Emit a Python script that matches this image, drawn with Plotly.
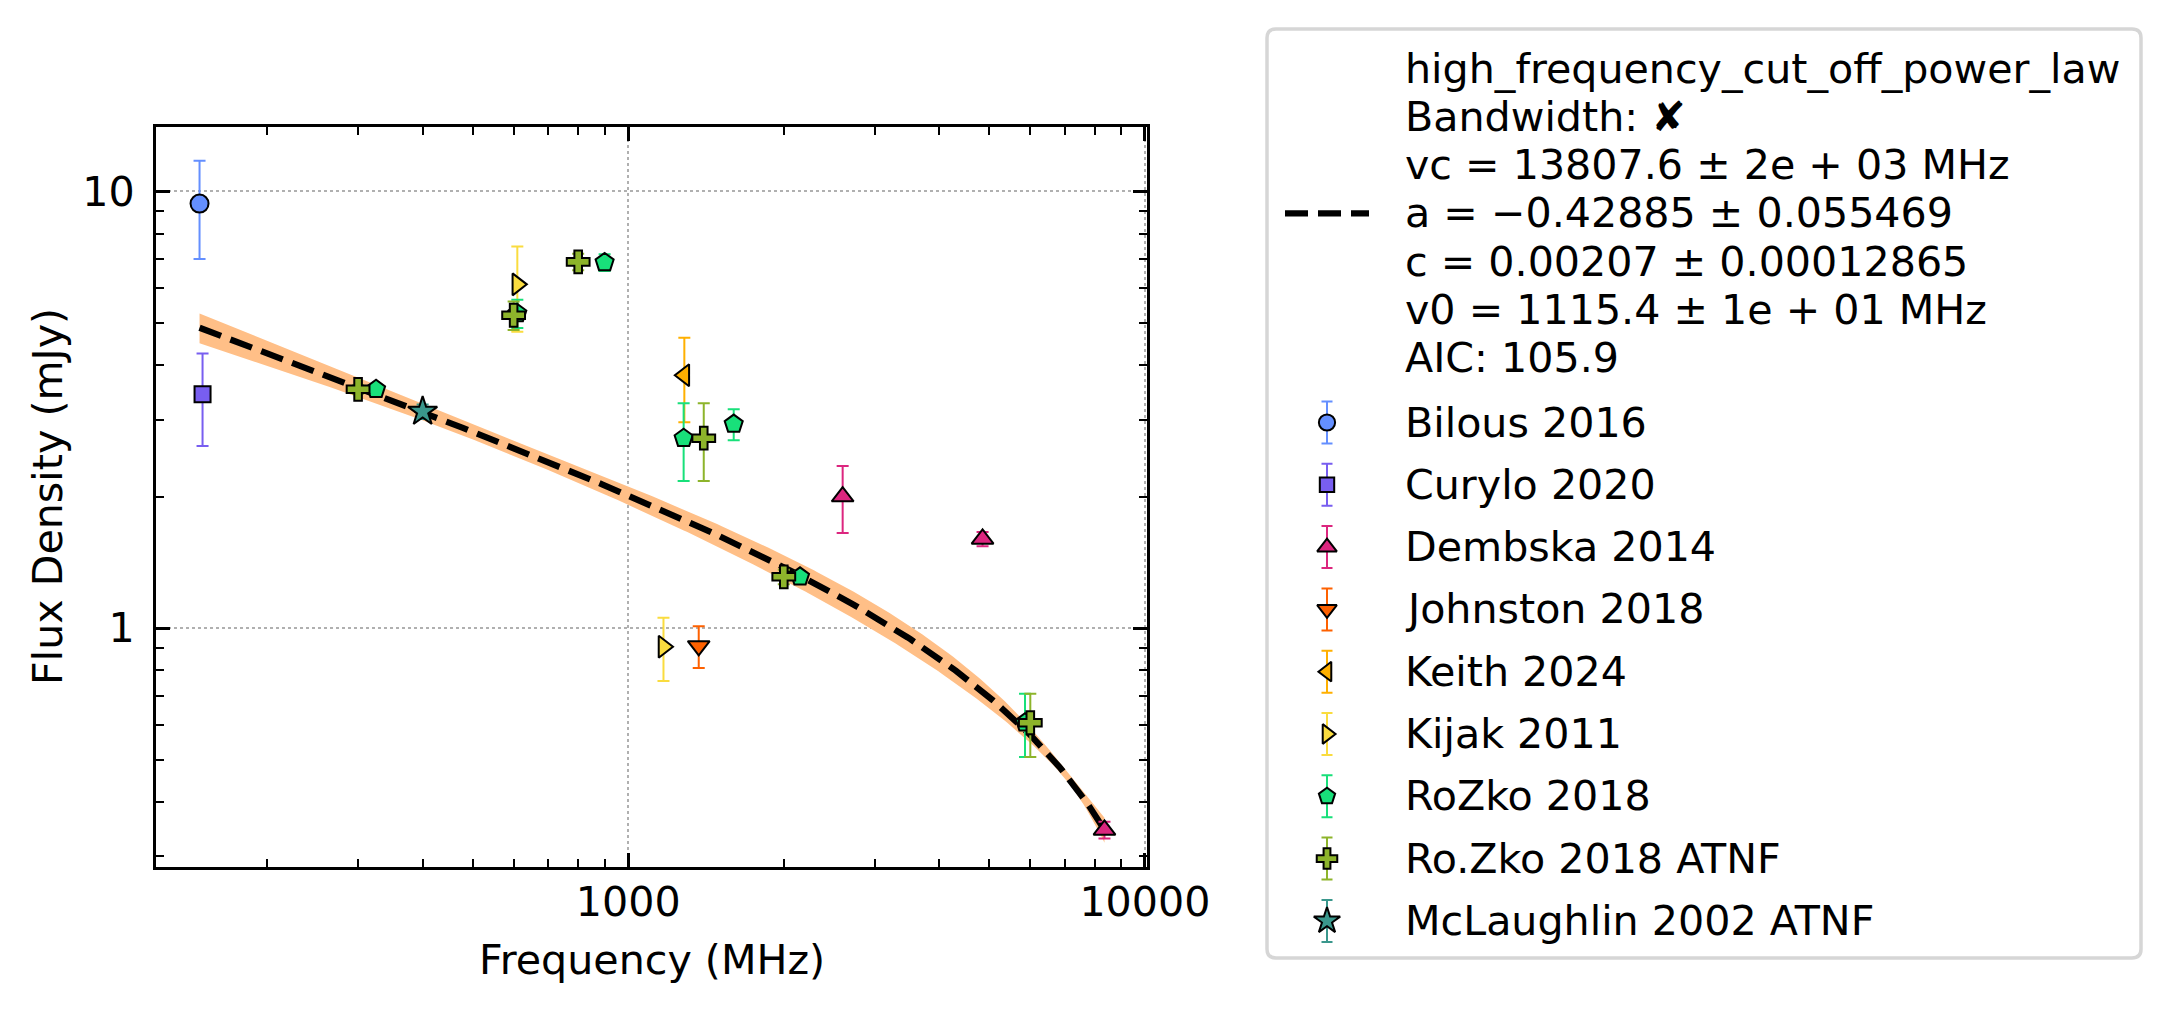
import numpy as np
import plotly.graph_objects as go

W, H = 2172, 1011
FONT = "DejaVu Sans"
FS = 41.2

# ---------------- data (frequency MHz, flux density mJy, error mJy) ----------------
bilous_freq = [148]
bilous_flux = [9.37]
bilous_err = [2.37]

curylo_freq = [150]
curylo_flux = [3.43]
curylo_err = [0.82]

dembska_freq = [2600, 4850, 8350]
dembska_flux = [2.0, 1.6, 0.345]
dembska_err = [0.35, 0.06, 0.015]

johnston_freq = [1369]
johnston_flux = [0.91]
johnston_err = [0.10]

keith_freq = [1284]
keith_flux = [3.79]
keith_err = [0.83]

kijak_freq = [610, 1170]
kijak_flux = [6.12, 0.906]
kijak_err = [1.35, 0.15]

rozko_freq = [325, 610, 900, 1280, 1600, 2150, 5860]
rozko_flux = [3.52, 5.25, 6.87, 2.72, 2.93, 1.31, 0.607]
rozko_err = [0.08, 0.39, 0.30, 0.55, 0.24, 0.04, 0.10]

rozko_atnf_freq = [300, 600, 800, 1400, 2000, 6000]
rozko_atnf_flux = [3.52, 5.20, 6.89, 2.72, 1.31, 0.607]
rozko_atnf_err = [0.08, 0.39, 0.30, 0.55, 0.05, 0.10]

mclaughlin_freq = [400]
mclaughlin_flux = [3.13]
mclaughlin_err = [0.12]

series_names = ["Bilous 2016", "Curylo 2020", "Dembska 2014", "Johnston 2018",
                "Keith 2024", "Kijak 2011", "RoZko 2018", "Ro.Zko 2018 ATNF",
                "McLaughlin 2002 ATNF"]

# fit parameters (high frequency cut-off power law)
fit_vc, fit_vc_err = 13807.6, 2000.0
fit_a, fit_a_err = -0.42885, 0.055469
fit_c, fit_c_err = 0.00207, 0.00012865  # Jy
fit_v0 = 1115.4
# assumed parameter correlations used for the uncertainty band
rho_c_a, rho_c_vc, rho_a_vc = 0.75, -0.89, -0.95

model_label_lines = [
    "high_frequency_cut_off_power_law",
    "Bandwidth: \u2718",
    "vc = 13807.6 \u00b1 2e + 03 MHz",
    "a = \u22120.42885 \u00b1 0.055469",
    "c = 0.00207 \u00b1 0.00012865",
    "v0 = 1115.4 \u00b1 1e + 01 MHz",
    "AIC: 105.9",
]

x_tick_vals = [1000, 10000]
x_tick_labels = ["1000", "10000"]
y_tick_vals = [1, 10]
y_tick_labels = ["1", "10"]

# ---------------- styles ----------------
series = [
    (bilous_freq, bilous_flux, bilous_err, "#648FFF", "circle", 18),
    (curylo_freq, curylo_flux, curylo_err, "#785EF0", "square", 16),
    (dembska_freq, dembska_flux, dembska_err, "#DC267F", "triangle-up", 19),
    (johnston_freq, johnston_flux, johnston_err, "#FE6100", "triangle-down", 19),
    (keith_freq, keith_flux, keith_err, "#FFB000", "triangle-left", 19),
    (kijak_freq, kijak_flux, kijak_err, "#FADC3F", "triangle-right", 19),
    (rozko_freq, rozko_flux, rozko_err, "#18E07A", "pentagon", 19),
    (rozko_atnf_freq, rozko_atnf_flux, rozko_atnf_err, "#8DB42B", "cross", 19),
    (mclaughlin_freq, mclaughlin_flux, mclaughlin_err, "#3A978C", "star", 22),
]

# ---------------- layout geometry (pixels) ----------------
ax_l, ax_r, ax_t, ax_b = 156, 1147, 127, 867
x_range = [2.086, 4.004]
y_range = [-0.547, 1.147]

fig = go.Figure()

# ---------------- model and band ----------------
all_freq = sum([s[0] for s in series], [])
fit_freq = np.logspace(np.log10(min(all_freq)), np.log10(max(all_freq)), 300)
model = fit_c * 1000.0 * (fit_freq / fit_v0) ** fit_a * (1 - fit_freq / fit_vc)

lx = np.log(fit_freq / fit_v0)
r = fit_freq / fit_vc
g = r / (1 - r)
sc = fit_c_err / fit_c
sa = fit_a_err
sv = fit_vc_err / fit_vc
var = (sc ** 2 + (lx * sa) ** 2 + (g * sv) ** 2
       + 2 * rho_c_a * sc * sa * lx
       + 2 * rho_c_vc * sc * sv * g
       + 2 * rho_a_vc * sa * sv * lx * g)
rel = np.sqrt(np.clip(var, 0, None))
upper = model * (1 + rel)
lower = model * (1 - rel)

fig.add_trace(go.Scatter(x=fit_freq, y=lower, mode="lines", line=dict(width=0),
                         showlegend=False, hoverinfo="skip"))
fig.add_trace(go.Scatter(x=fit_freq, y=upper, mode="lines", line=dict(width=0),
                         fill="tonexty", fillcolor="#FFBF87",
                         showlegend=False, hoverinfo="skip"))
DASH = "23px,10px"
fig.add_trace(go.Scatter(x=fit_freq, y=model, mode="lines",
                         line=dict(color="black", width=6.25, dash=DASH),
                         showlegend=False))

# ---------------- data ----------------
for (fx, fy, fe, col, sym, sz), name in zip(series, series_names):
    fig.add_trace(go.Scatter(
        x=fx, y=fy, mode="markers", name=name,
        marker=dict(symbol=sym, size=sz, color=col, line=dict(color="black", width=2)),
        error_y=dict(type="data", array=fe, visible=True, color=col, thickness=2, width=6),
        showlegend=False))

# ---------------- manual legend (pixel overlay axes) ----------------
leg_x0, leg_y0, leg_x1, leg_y1, rad = 1267, 29, 2141, 958, 9
frame = (f"M {leg_x0+rad},{leg_y0} L {leg_x1-rad},{leg_y0} Q {leg_x1},{leg_y0} {leg_x1},{leg_y0+rad} "
         f"L {leg_x1},{leg_y1-rad} Q {leg_x1},{leg_y1} {leg_x1-rad},{leg_y1} "
         f"L {leg_x0+rad},{leg_y1} Q {leg_x0},{leg_y1} {leg_x0},{leg_y1-rad} "
         f"L {leg_x0},{leg_y0+rad} Q {leg_x0},{leg_y0} {leg_x0+rad},{leg_y0} Z")

text_x = 1403
glyph_x = 1327
line0_y, line_step = 68.5, 48.3
entry0_y, entry_step = 422.5, 62.3

annotations = []
for i, t in enumerate(model_label_lines):
    annotations.append(dict(x=text_x, y=line0_y + i * line_step, xref="x2", yref="y2",
                            text=t, showarrow=False, xanchor="left", yanchor="middle",
                            font=dict(family=FONT, size=FS, color="black")))
mid_y = line0_y + 3 * line_step
fig.add_trace(go.Scatter(x=[1285, 1369], y=[mid_y, mid_y], xaxis="x2", yaxis="y2",
                         mode="lines", line=dict(color="black", width=6.25, dash=DASH),
                         showlegend=False, cliponaxis=False, hoverinfo="skip"))

for i, ((fx, fy, fe, col, sym, sz), name) in enumerate(zip(series, series_names)):
    ey = entry0_y + i * entry_step
    fig.add_trace(go.Scatter(
        x=[glyph_x], y=[ey], xaxis="x2", yaxis="y2", mode="markers",
        marker=dict(symbol=sym, size=sz * 0.9, color=col, line=dict(color="black", width=2)),
        error_y=dict(type="data", array=[21], visible=True, color=col, thickness=2, width=5.5),
        showlegend=False, cliponaxis=False, hoverinfo="skip"))
    annotations.append(dict(x=text_x, y=ey, xref="x2", yref="y2", text=name,
                            showarrow=False, xanchor="left", yanchor="middle",
                            font=dict(family=FONT, size=FS, color="black")))

# axis titles
annotations.append(dict(x=(ax_l + ax_r) / 2 / W, y=1 - 960 / H, xref="paper", yref="paper",
                        text="Frequency (MHz)", showarrow=False, xanchor="center",
                        yanchor="middle", font=dict(family=FONT, size=FS, color="black")))
annotations.append(dict(x=48 / W, y=1 - (ax_t + ax_b) / 2 / H, xref="paper", yref="paper",
                        text="Flux Density (mJy)", showarrow=False, textangle=-90,
                        xanchor="center", yanchor="middle",
                        font=dict(family=FONT, size=FS, color="black")))

x_minor = [m * 10 ** e for e in (2, 3) for m in range(2, 10)]
y_minor = [m * 10 ** e for e in (-1, 0, 1) for m in range(2, 10)]

axis_common = dict(
    showline=True, linecolor="black", linewidth=3, mirror="ticks",
    ticks="inside", ticklen=14, tickwidth=3, tickcolor="black",
    showgrid=True, gridcolor="#b0b0b0", griddash="dot", gridwidth=2,
    zeroline=False, automargin=False,
    tickfont=dict(family=FONT, size=FS, color="black"),
)

fig.update_layout(
    width=W, height=H, autosize=False,
    margin=dict(l=0, r=0, t=0, b=0, pad=0, autoexpand=False),
    paper_bgcolor="white", plot_bgcolor="rgba(0,0,0,0)",
    showlegend=False,
    xaxis=dict(type="log", range=x_range, domain=[ax_l / W, ax_r / W], anchor="y",
               tickmode="array", tickvals=x_tick_vals, ticktext=x_tick_labels,
               ticklabelstandoff=-3,
               minor=dict(ticks="inside", ticklen=8, tickwidth=2, tickcolor="black",
                          tickmode="array", tickvals=x_minor, showgrid=False),
               **axis_common),
    yaxis=dict(type="log", range=y_range, domain=[1 - ax_b / H, 1 - ax_t / H], anchor="x",
               tickmode="array", tickvals=y_tick_vals, ticktext=y_tick_labels,
               ticklabelstandoff=10,
               minor=dict(ticks="inside", ticklen=8, tickwidth=2, tickcolor="black",
                          tickmode="array", tickvals=y_minor, showgrid=False),
               **axis_common),
    xaxis2=dict(domain=[0, 1], range=[0, W], anchor="y2", visible=False, fixedrange=True),
    yaxis2=dict(domain=[0, 1], range=[H, 0], anchor="x2", visible=False, fixedrange=True),
    shapes=[dict(type="path", path=frame, xref="x2", yref="y2",
                 line=dict(color="#d6d6d6", width=3.5), fillcolor="white", layer="below")],
    annotations=annotations,
)

fig.write_html("out.html", config={"responsive": False})
